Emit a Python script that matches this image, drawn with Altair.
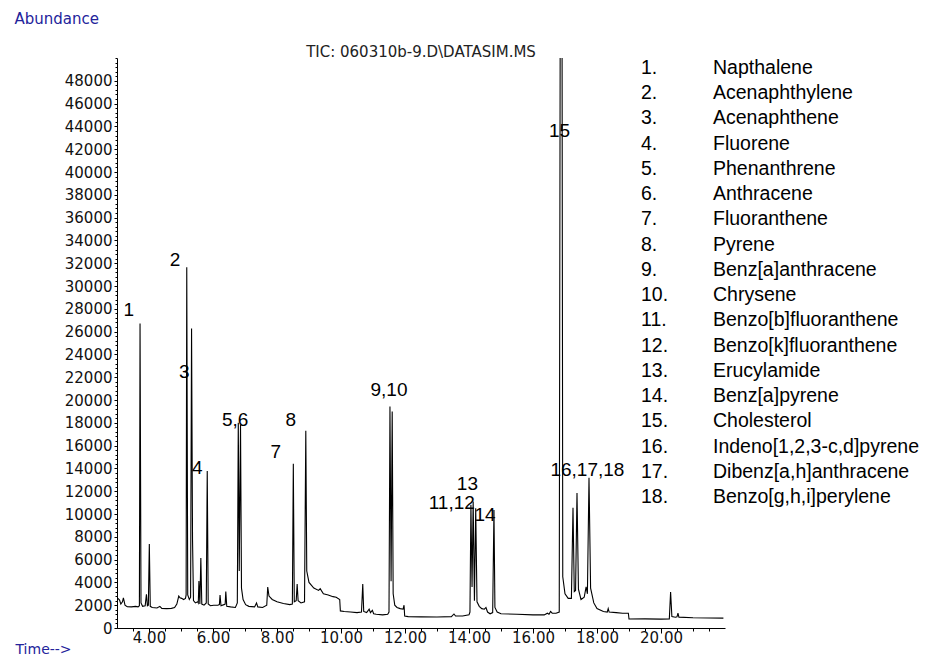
import altair as alt
import pandas as pd

# ---- chromatogram trace (time in min, abundance) ----
seg_a = [(3.03, 2600), (3.08, 2450), (3.12, 2100), (3.17, 2300), (3.20, 2650), (3.25, 2000),
         (3.32, 1870), (3.45, 1850), (3.58, 1900), (3.66, 1850), (3.70, 1950), (3.72, 26700),
         (3.75, 2200), (3.80, 1900), (3.88, 1950), (3.92, 2950), (3.95, 1950), (3.98, 2000),
         (4.01, 7370), (4.04, 1900), (4.10, 1800), (4.25, 1750), (4.34, 1900), (4.40, 1720),
         (4.55, 1700), (4.70, 1720), (4.80, 1800), (4.87, 2100), (4.93, 2800), (4.97, 2650)]
seg_b = [(5.02, 2600), (5.08, 2500), (5.14, 2600), (5.16, 2900), (5.18, 31640), (5.21, 2900),
         (5.26, 2500), (5.30, 2700), (5.33, 26280), (5.36, 7800), (5.39, 2400), (5.45, 2200),
         (5.52, 2300), (5.54, 2200), (5.56, 4130), (5.59, 2100), (5.62, 6150), (5.65, 2100),
         (5.72, 2000), (5.79, 2200), (5.82, 13780), (5.85, 2100), (5.92, 1950), (6.02, 2000),
         (6.15, 2000), (6.20, 2050), (6.22, 2900), (6.25, 1950), (6.34, 2050), (6.38, 2100),
         (6.40, 3200), (6.43, 1900), (6.55, 1850), (6.70, 1800), (6.76, 2200), (6.79, 18000),
         (6.82, 5000), (6.86, 17800), (6.89, 3500), (6.94, 2500)]
seg_c = [(7.02, 2050), (7.12, 1900), (7.30, 1850), (7.36, 2200), (7.40, 1850), (7.55, 1800),
         (7.68, 2000), (7.71, 3600), (7.75, 2800), (7.85, 2500), (8.00, 2300), (8.20, 2150),
         (8.40, 2050), (8.48, 2100), (8.51, 14400), (8.54, 2300), (8.60, 2400), (8.63, 3860),
         (8.66, 2400), (8.75, 2200), (8.86, 2300), (8.90, 17300), (8.93, 5000), (9.00, 4000),
         (9.15, 3500), (9.30, 3300), (9.35, 3450), (9.45, 3000), (9.60, 2900), (9.75, 2750),
         (9.85, 2700), (9.96, 2500), (9.98, 1500)]
seg_d = [(10.10, 1450), (10.30, 1400), (10.50, 1350), (10.64, 1400), (10.68, 3860), (10.71, 1450),
         (10.80, 1350), (10.88, 1650), (10.92, 1350), (10.98, 1550), (11.02, 1250), (11.10, 1200),
         (11.30, 1150), (11.46, 1200), (11.50, 1400), (11.53, 19430), (11.565, 4100), (11.60, 18990),
         (11.63, 3000), (11.68, 2000), (11.75, 1800), (11.85, 1700), (11.94, 1650), (11.97, 2000),
         (11.99, 1050)]
seg_e = [(12.10, 1000), (12.50, 980), (13.00, 970), (13.45, 1000), (13.53, 1230), (13.58, 1050),
         (13.80, 1050), (14.00, 1150), (14.03, 1400), (14.06, 10800), (14.095, 3600), (14.13, 11100),
         (14.17, 2400), (14.21, 10500), (14.25, 2300), (14.32, 1900), (14.40, 1700), (14.48, 1650),
         (14.53, 1800), (14.58, 1400), (14.66, 1250), (14.74, 1350), (14.78, 10360), (14.81, 1800),
         (14.88, 1400), (15.00, 1250), (15.50, 1200), (16.00, 1150), (16.35, 1150), (16.45, 1300),
         (16.50, 1200), (16.55, 1450), (16.60, 1300), (16.72, 1300), (16.82, 1400)]
seg_f = [(16.86, 70000), (16.90, 70000), (16.93, 4500), (17.00, 3000), (17.10, 2600), (17.20, 2600),
         (17.25, 10540), (17.29, 3200), (17.33, 3300), (17.375, 11850), (17.42, 3400), (17.50, 2500),
         (17.60, 2700), (17.66, 3600), (17.70, 3000), (17.75, 13170), (17.80, 3500), (17.90, 2200),
         (18.00, 1700), (18.20, 1450), (18.32, 1400), (18.35, 1700), (18.38, 1400), (18.60, 1350),
         (18.80, 1300), (18.98, 1300), (19.00, 790), (19.50, 800), (20.00, 780), (20.26, 800),
         (20.30, 3160), (20.34, 1000), (20.45, 950), (20.50, 980), (20.53, 1300), (20.56, 950),
         (21.00, 900), (21.50, 880), (21.95, 870)]

# ---- peak numbers placed over the trace ----
peak_labels = ["1", "2", "3", "4", "5,6", "7", "8", "9,10", "11,12", "13", "14", "15", "16,17,18"]
peak_label_time = [3.37, 4.81, 5.10, 5.51, 6.69, 7.96, 8.43, 11.50, 13.46, 13.95, 14.50, 16.83, 17.70]
peak_label_abund = [27920, 32310, 22480, 14035, 18245, 15470, 18270, 20880, 10965, 12660, 9885, 43600, 13860]

# ---- compound list ----
compounds = ["Napthalene", "Acenaphthylene", "Acenaphthene", "Fluorene", "Phenanthrene",
             "Anthracene", "Fluoranthene", "Pyrene", "Benz[a]anthracene", "Chrysene",
             "Benzo[b]fluoranthene", "Benzo[k]fluoranthene", "Erucylamide", "Benz[a]pyrene",
             "Cholesterol", "Indeno[1,2,3-c,d]pyrene", "Dibenz[a,h]anthracene",
             "Benzo[g,h,i]perylene"]

x_major = [4, 6, 8, 10, 12, 14, 16, 18, 20]
x_minor = [3.5 + 0.5 * i for i in range(37)]
y_major = list(range(0, 48001, 2000))
y_minor = list(range(0, 50001, 400))

title_text = "TIC: 060310b-9.D\\DATASIM.MS"

pts = seg_a + seg_b + seg_c + seg_d + seg_e + seg_f
trace = pd.DataFrame({"t": [p[0] for p in pts], "A": [p[1] for p in pts]})
peaks = pd.DataFrame({"t": peak_label_time, "A": peak_label_abund, "label": peak_labels})
legend = pd.DataFrame({"row": list(range(1, len(compounds) + 1)),
                       "num": [f"{i}." for i in range(1, len(compounds) + 1)],
                       "name": compounds})

AXF = "DejaVu Sans"
TXF = "Liberation Sans"
BLUE = "#23239b"


def xs():
    return alt.Scale(domain=[3, 22], nice=False, zero=False)


def ys():
    return alt.Scale(domain=[0, 50000], nice=False)


line = alt.Chart(trace).mark_line(color="black", strokeWidth=1.1, clip=True).encode(
    x=alt.X("t:Q", scale=xs(), axis=alt.Axis(
        values=x_major, format=".2f", orient="bottom", tickSize=5, labelPadding=-3,
        labelFlush=False, labelOverlap=False,
        title="Time-->", titleX=-102, titleY=21, titleAlign="left", titleBaseline="middle",
        titleAngle=0, titleColor=BLUE, titleFont=AXF, titleFontSize=14, titleFontWeight="normal")),
    y=alt.Y("A:Q", scale=ys(), axis=alt.Axis(
        values=y_major, format="d", orient="left", tickSize=3, labelPadding=2,
        labelOverlap=False, labelFlush=False,
        title="Abundance", titleX=-103, titleY=-40, titleAlign="left", titleBaseline="middle",
        titleAngle=0, titleColor=BLUE, titleFont=AXF, titleFontSize=15, titleFontWeight="normal")),
)

minor = alt.Chart(trace).mark_line(strokeOpacity=0).encode(
    x=alt.X("t:Q", scale=xs(), axis=alt.Axis(values=x_minor, labels=False, domain=False,
                                             tickSize=3, orient="bottom", title=None)),
    y=alt.Y("A:Q", scale=ys(), axis=alt.Axis(values=y_minor, labels=False, domain=False,
                                             tickSize=2, orient="left", title=None)),
)

plabels = alt.Chart(peaks).mark_text(font=TXF, fontSize=19, color="black", baseline="middle",
                                     align="center").encode(
    x=alt.X("t:Q", scale=xs(), axis=None),
    y=alt.Y("A:Q", scale=ys(), axis=None),
    text="label:N",
)

rowscale = alt.Scale(domain=[1, 18], range=[10, 439])
leg_num = alt.Chart(legend).mark_text(font=TXF, fontSize=19.5, color="black", align="left",
                                      baseline="middle").encode(
    x=alt.value(524),
    y=alt.Y("row:Q", scale=rowscale, axis=None),
    text="num:N",
)
leg_name = alt.Chart(legend).mark_text(font=TXF, fontSize=19.5, color="black", align="left",
                                       baseline="middle").encode(
    x=alt.value(596),
    y=alt.Y("row:Q", scale=rowscale, axis=None),
    text="name:N",
)

ttl = alt.Chart(pd.DataFrame({"s": [title_text]})).mark_text(
    font=AXF, fontSize=15, color="#222222", align="center", baseline="middle").encode(
    x=alt.value(304), y=alt.value(-6), text="s:N")

chart = alt.layer(line, minor, plabels, leg_num, leg_name, ttl).resolve_scale(
    x="independent", y="independent").resolve_axis(x="independent", y="independent").properties(
    width=608, height=570,
    padding={"left": 109, "top": 50, "right": 205, "bottom": 30},
    autosize=alt.AutoSizeParams(type="none"),
    background="white",
).configure_view(strokeWidth=0).configure_axis(
    grid=False, domainColor="black", tickColor="black", labelColor="#111111",
    labelFont=AXF, labelFontSize=15, domainWidth=1, tickWidth=1)

chart.save("out.html", embed_options={"renderer": "svg", "actions": False})
